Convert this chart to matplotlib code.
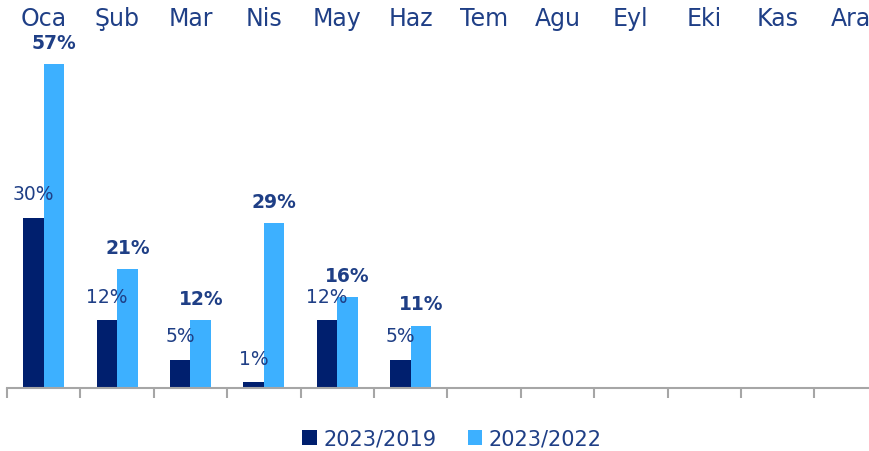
import matplotlib
matplotlib.use("Agg")
import matplotlib.pyplot as plt
import numpy as np

# months (Turkish) and yearly growth rates
months = ["Oca", "Şub", "Mar", "Nis", "May", "Haz", "Tem", "Agu", "Eyl", "Eki", "Kas", "Ara"]
vs_2019 = [30, 12, 5, 1, 12, 5]
vs_2022 = [57, 21, 12, 29, 16, 11]
series_names = ["2023/2019", "2023/2022"]

dark = "#001F6E"
light = "#3DB0FF"
text_col = "#1F3F86"

plt.rcParams["font.family"] = ["DejaVu Sans"]

fig = plt.figure(figsize=(8.7, 4.52), dpi=100)
# axes runs past the right edge of the figure, like the source
ax = fig.add_axes([7 / 870, 63 / 452, 12 * 73.4 / 870, 384 / 452])

x = np.arange(len(months))
w = 0.28
n = len(vs_2019)
b1 = ax.bar(x[:n] - w / 2, vs_2019, w, color=dark, label=series_names[0])
b2 = ax.bar(x[:n] + w / 2, vs_2022, w, color=light, label=series_names[1])

for rect, v in zip(b1, vs_2019):
    ax.annotate(f"{v}%", (rect.get_x() + rect.get_width() / 2, v),
                xytext=(0, 17), textcoords="offset points",
                ha="center", va="center", fontsize=13.5, color=text_col)
for rect, v in zip(b2, vs_2022):
    ax.annotate(f"{v}%", (rect.get_x() + rect.get_width() / 2, v),
                xytext=(0, 15.5), textcoords="offset points",
                ha="center", va="center", fontsize=13.5, color=text_col,
                fontweight="bold")

ax.set_xlim(-0.5, len(months) - 0.5)
ax.set_ylim(0, 384 / 5.68)

# month names across the top
for i, m in enumerate(months):
    ax.text(i, 0.963, m, transform=ax.get_xaxis_transform(),
            ha="center", va="center", fontsize=17, color=text_col)

ax.set_xticks([])
ax.set_xticks(np.arange(len(months)) - 0.5, minor=True)
ax.tick_params(axis="x", which="minor", length=7, width=1.5, color="#A6A6A6",
               direction="out", labelbottom=False)
ax.set_yticks([])
for s in ["top", "left", "right"]:
    ax.spines[s].set_visible(False)
ax.spines["bottom"].set_color("#A6A6A6")
ax.spines["bottom"].set_linewidth(1.5)

fig.legend(handles=[b1, b2], loc="center", bbox_to_anchor=(452 / 870, 1 - 440 / 452),
           ncol=2, frameon=False, fontsize=15, labelcolor=text_col,
           handlelength=0.7, handleheight=0.7, handletextpad=0.3, columnspacing=1.5)

fig.savefig("out.png", dpi=100)
